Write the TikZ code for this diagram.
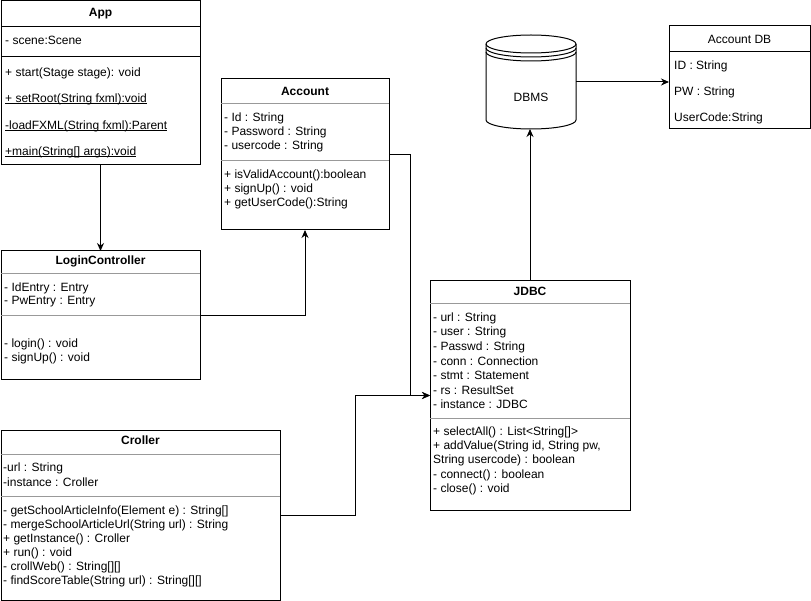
\documentclass[tikz,border=0pt]{standalone}
\usepackage{fontspec}
\setmainfont{Liberation Sans}
\usetikzlibrary{arrows.meta}
\newcommand{\ulined}[1]{\underline{\smash{#1}}\vphantom{#1}}

\begin{document}
\begin{tikzpicture}[x=1pt,y=-1pt,
    every node/.style={font=\fontsize{12}{14}\selectfont},
    box/.style={draw,line width=1pt,anchor=north west,inner sep=0pt,outer sep=0pt},
    classname/.style={font=\fontsize{12}{14}\selectfont\bfseries},
    member/.style={anchor=west,inner sep=0pt},
    divider/.style={draw=black!40,line width=1pt},
    link/.style={-{Stealth[length=8pt,width=7pt]},line width=1pt}]
  \useasboundingbox (0,0) rectangle (811,601);

  % class boxes
  \node[box,minimum width=199pt,minimum height=164pt] (app) at (1,1) {};
  \node[box,minimum width=168pt,minimum height=151pt] (account) at (221,79) {};
  \node[box,minimum width=199pt,minimum height=129pt] (login) at (1,251) {};
  \node[box,minimum width=279pt,minimum height=170pt] (croller) at (1,430) {};
  \node[box,minimum width=200pt,minimum height=229pt] (jdbc) at (430,281) {};
  \node[box,minimum width=141pt,minimum height=103pt] (accountdb) at (669,26) {};
  \node[minimum width=90pt,minimum height=94pt,inner sep=0pt,outer sep=0pt] (dbms) at (531,82) {};

  % dividers
  \draw[line width=1pt] (1,27) -- (200,27) (1,57) -- (200,57);
  \draw[divider] (221,104) -- (389,104) (221,161) -- (389,161);
  \draw[divider] (1,274) -- (200,274) (1,316) -- (200,316);
  \draw[divider] (1,454) -- (280,454) (1,496) -- (280,496);
  \draw[divider] (430,304) -- (630,304) (430,418) -- (630,418);
  \draw[line width=1pt] (669,52) -- (810,52);

  % database cylinder
  \draw[line width=1pt] (486,44) arc[start angle=180,end angle=0,x radius=45pt,y radius=9pt]
    -- (576,120) arc[start angle=0,end angle=-180,x radius=45pt,y radius=9pt] -- cycle;
  \draw[line width=1pt] (486,44) arc[start angle=180,end angle=360,x radius=45pt,y radius=9pt];
  \draw[line width=1pt] (486,48) arc[start angle=180,end angle=360,x radius=45pt,y radius=9pt];
  \draw[line width=1pt] (486,52) arc[start angle=180,end angle=360,x radius=45pt,y radius=9pt];
  \node (dbms-t) at (531,97) {DBMS};

  % App
  \draw
    (100.5,14) node[classname] (app-t) {App}
    (5,40) node[member] (app-a1) {- scene:Scene}
    (5,73) node[member] (app-m1) {+ start(Stage stage): void}
    (5,99) node[member] (app-m2) {\ulined{+ setRoot(String fxml):void}}
    (5,126) node[member] (app-m3) {\ulined{-loadFXML(String fxml):Parent}}
    (5,152) node[member] (app-m4) {\ulined{+main(String[] args):void}};

  % Account
  \draw
    (305,91) node[classname] (account-t) {Account}
    (224,118) node[member] (account-a1) {- Id : String}
    (224,132) node[member] (account-a2) {- Password : String}
    (224,146) node[member] (account-a3) {- usercode : String}
    (224,175) node[member] (account-m1) {+ isValidAccount():boolean}
    (224,189) node[member] (account-m2) {+ signUp() : void}
    (224,203) node[member] (account-m3) {+ getUserCode():String};

  % LoginController
  \draw
    (100.5,261) node[classname] (login-t) {LoginController}
    (4,288) node[member] (login-a1) {- IdEntry : Entry}
    (4,302) node[member] (login-a2) {- PwEntry : Entry}
    (4,344) node[member] (login-m1) {- login() : void}
    (4,358) node[member] (login-m2) {- signUp() : void};

  % Croller
  \draw
    (140.5,440) node[classname] (croller-t) {Croller}
    (3,468) node[member] (croller-a1) {-url : String}
    (3,482) node[member] (croller-a2) {-instance : Croller}
    (3,511) node[member] (croller-m1) {- getSchoolArticleInfo(Element e) : String[]}
    (3,525) node[member] (croller-m2) {- mergeSchoolArticleUrl(String url) : String}
    (3,539) node[member] (croller-m3) {+ getInstance() : Croller}
    (3,553) node[member] (croller-m4) {+ run() : void}
    (3,567) node[member] (croller-m5) {- crollWeb() : String[][]}
    (3,581) node[member] (croller-m6) {- findScoreTable(String url) : String[][]};

  % JDBC
  \draw
    (530,291) node[classname] (jdbc-t) {JDBC}
    (433,318) node[member] (jdbc-a1) {- url : String}
    (433,332) node[member] (jdbc-a2) {- user : String}
    (433,347) node[member] (jdbc-a3) {- Passwd : String}
    (433,361) node[member] (jdbc-a4) {- conn : Connection}
    (433,375) node[member] (jdbc-a5) {- stmt : Statement}
    (433,390) node[member] (jdbc-a6) {- rs : ResultSet}
    (433,404) node[member] (jdbc-a7) {- instance : JDBC}
    (433,432) node[member] (jdbc-m1) {+ selectAll() : List<String[]>}
    (433,446) node[member] (jdbc-m2) {+ addValue(String id, String pw,}
    (433,460) node[member] (jdbc-m3) {String usercode) : boolean}
    (433,475) node[member] (jdbc-m4) {- connect() : boolean}
    (433,489) node[member] (jdbc-m5) {- close() : void};

  % Account DB
  \draw
    (739.5,39) node (accountdb-t) {Account DB}
    (674,66) node[member] (accountdb-a1) {ID : String}
    (674,92) node[member] (accountdb-a2) {PW : String}
    (674,118) node[member] (accountdb-a3) {UserCode:String};

  \begin{scope}[link]
    \draw (app.south) -- (login.north);
    \draw (login.east) -| (account.south);
    \draw (account.east) -- ++(21,0) |- (jdbc.west);
    \draw (croller.east) -- ++(75,0) |- (jdbc.west);
    \draw (jdbc.north) -- (jdbc.north |- dbms.south);
    \draw (dbms.east) -- (dbms.east -| accountdb.west);
  \end{scope}
\end{tikzpicture}
\end{document}
